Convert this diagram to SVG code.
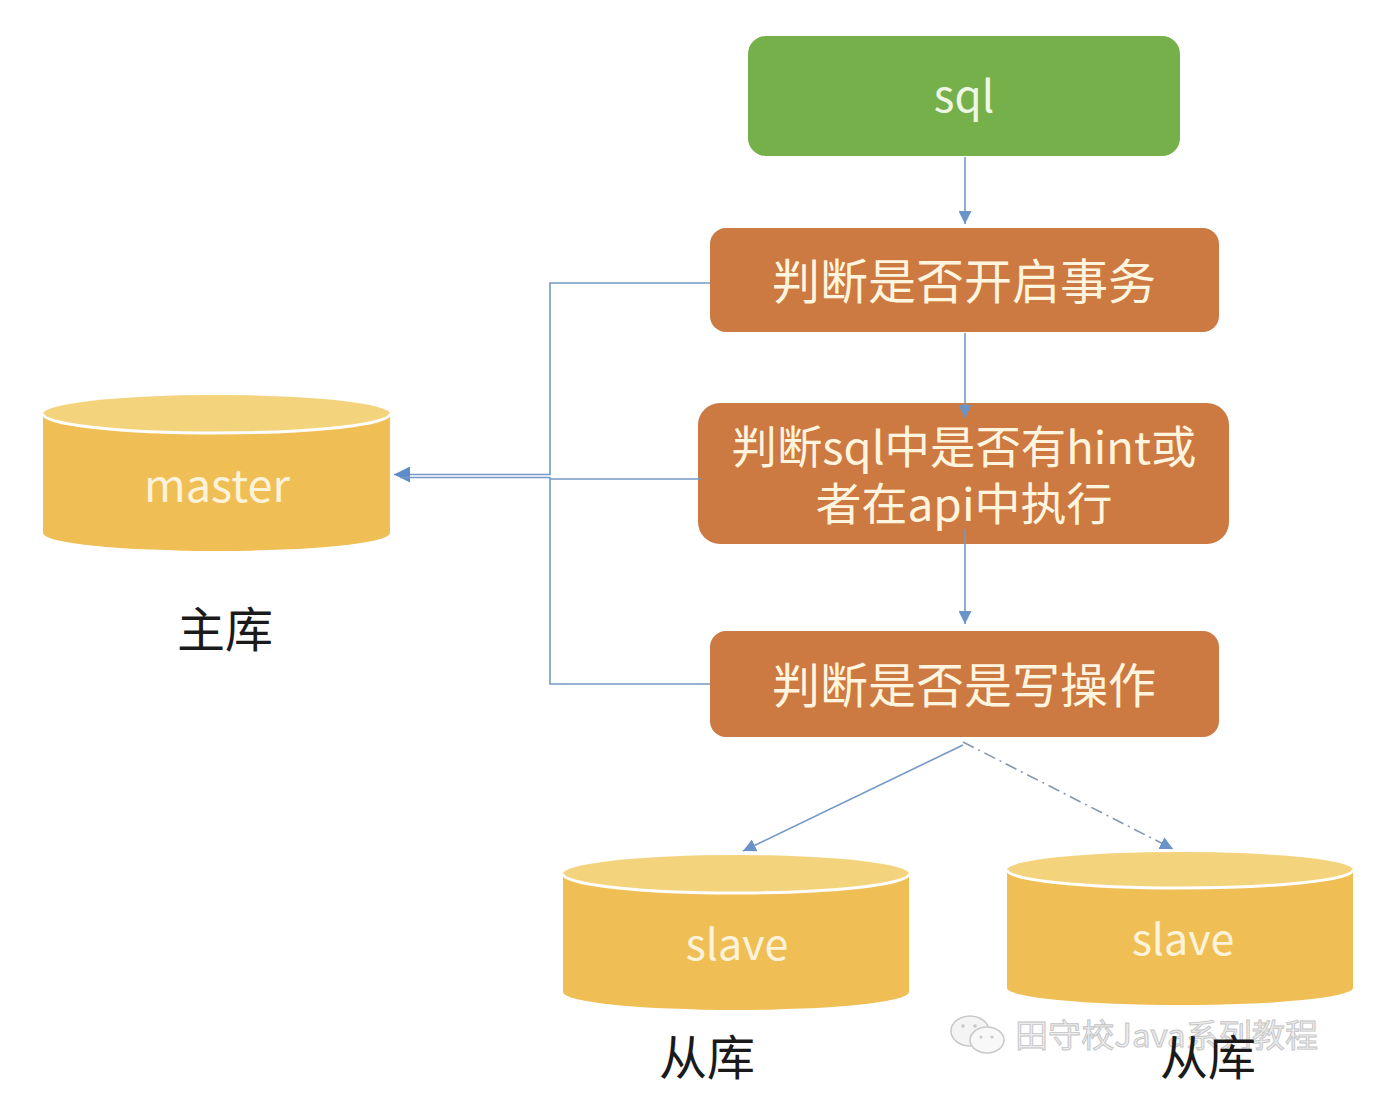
<svg xmlns="http://www.w3.org/2000/svg" width="1390" height="1108" viewBox="0 0 1390 1108">
  <style>
    .box-green { fill: #76B04A; }
    .box-orange { fill: #CD7942; }
    .btxt { font-family: "Noto Sans CJK SC", "Noto Sans", sans-serif; fill: #FFF5DF; text-anchor: middle; }
    .gtxt { font-family: "Noto Sans CJK SC", "Noto Sans", sans-serif; fill: #EEF7E3; text-anchor: middle; }
    .ctxt { font-family: "Noto Sans CJK SC", "Noto Sans", sans-serif; fill: #FDF3DA; text-anchor: middle; }
    .label { font-family: "Noto Sans CJK SC", sans-serif; fill: #1A1A1A; text-anchor: middle; font-size: 48px; }
    .wm { font-family: "Noto Sans CJK SC", sans-serif; fill: #EDEDED; stroke: #C4C4C4; stroke-width: 0.9; font-size: 32px; }
    .conn { fill: none; stroke: #7399C6; stroke-width: 1.6; }
    .dash { fill: none; stroke: #8597AD; stroke-width: 1.6; stroke-dasharray: 12 5 2 5; }
    .cyl-body { fill: #EFBF56; }
    .cyl-top { fill: #F4D37D; }
    .cyl-rim { fill: none; stroke: #FFFFFF; stroke-width: 3; }
  </style>
  <defs>
    <marker id="ah" viewBox="0 0 10 10" refX="10" refY="5" markerWidth="13" markerHeight="13" markerUnits="userSpaceOnUse" orient="auto">
      <path d="M0,0 L10,5 L0,10 Z" fill="#6A94C9"/>
    </marker>
    <marker id="ahL" viewBox="0 0 10 10" refX="10" refY="5" markerWidth="16" markerHeight="16" markerUnits="userSpaceOnUse" orient="auto">
      <path d="M0,0 L10,5 L0,10 Z" fill="#5E8CC8"/>
    </marker>
  </defs>
  <rect width="1390" height="1108" fill="#FFFFFF"/>

  <g id="node-sql">
    <rect class="box-green" x="748" y="36" width="432" height="120" rx="18"/>
    <text class="gtxt" x="964" y="112" font-size="44">sql</text>
  </g>

  <g id="node-transaction">
    <rect class="box-orange" x="710" y="228" width="509" height="104" rx="16"/>
    <text class="btxt" x="964" y="299" font-size="48">判断是否开启事务</text>
  </g>

  <g id="node-hint">
    <rect class="box-orange" x="698" y="403" width="531" height="141" rx="22"/>
    <text class="btxt" x="964" y="464" font-size="45" textLength="465" lengthAdjust="spacingAndGlyphs">判断sql中是否有hint或</text>
    <text class="btxt" x="964" y="521" font-size="45" textLength="297" lengthAdjust="spacingAndGlyphs">者在api中执行</text>
  </g>

  <g id="node-write">
    <rect class="box-orange" x="710" y="631" width="509" height="106" rx="16"/>
    <text class="btxt" x="964" y="703" font-size="48">判断是否是写操作</text>
  </g>

  <g id="node-master">
    <path class="cyl-body" d="M43,414 V533 A173.5,18 0 0 0 390,533 V414 Z"/>
    <ellipse class="cyl-top" cx="216.5" cy="414" rx="173.5" ry="19"/>
    <path class="cyl-rim" d="M43,414 A173.5,19 0 0 0 390,414"/>
    <text class="ctxt" x="217" y="502" font-size="45">master</text>
    <text class="label" x="225" y="647">主库</text>
  </g>

  <g id="node-slave1">
    <path class="cyl-body" d="M563,874 V992 A173,18 0 0 0 909,992 V874 Z"/>
    <ellipse class="cyl-top" cx="736" cy="874" rx="173" ry="19"/>
    <path class="cyl-rim" d="M563,874 A173,19 0 0 0 909,874"/>
    <text class="ctxt" x="737" y="960" font-size="43">slave</text>
    <text class="label" x="707" y="1075">从库</text>
  </g>

  <g id="node-slave2">
    <path class="cyl-body" d="M1007,870 V988 A173,17 0 0 0 1353,988 V870 Z"/>
    <ellipse class="cyl-top" cx="1180" cy="870" rx="173" ry="18"/>
    <path class="cyl-rim" d="M1007,870 A173,18 0 0 0 1353,870"/>
    <text class="ctxt" x="1183" y="955" font-size="43">slave</text>
  </g>

  <g id="connectors">
    <line class="conn" x1="965" y1="157" x2="965" y2="224" marker-end="url(#ah)"/>
    <line class="conn" x1="965" y1="333" x2="965" y2="418" marker-end="url(#ah)"/>
    <line class="conn" x1="965" y1="529" x2="965" y2="624" marker-end="url(#ah)"/>
    <path class="conn" d="M710,283 H550 V474.5 H394" marker-end="url(#ahL)"/>
    <path class="conn" d="M710,684 H550 V477.5 H400"/>
    <path class="conn" d="M702,479 H550"/>
    <line class="conn" x1="963" y1="745" x2="743" y2="851" marker-end="url(#ah)"/>
    <line class="dash" x1="963" y1="742" x2="1173" y2="849" marker-end="url(#ah)"/>
  </g>

  <g id="watermark">
    <ellipse cx="970" cy="1031" rx="19" ry="15" fill="#F4F4F4" stroke="#C8C8C8" stroke-width="1.5"/>
    <ellipse cx="987" cy="1040" rx="17" ry="13" fill="#F8F8F8" stroke="#C8C8C8" stroke-width="1.5"/>
    <circle cx="963" cy="1026" r="1.8" fill="#C8C8C8"/>
    <circle cx="975" cy="1026" r="1.8" fill="#C8C8C8"/>
    <circle cx="981" cy="1037" r="1.6" fill="#C8C8C8"/>
    <circle cx="992" cy="1037" r="1.6" fill="#C8C8C8"/>
    <text class="wm" x="1015" y="1047" textLength="303" lengthAdjust="spacingAndGlyphs">田守校Java系列教程</text>
  </g>

  <g id="node-slave2-label">
    <text class="label" x="1208" y="1075">从库</text>
  </g>
</svg>
